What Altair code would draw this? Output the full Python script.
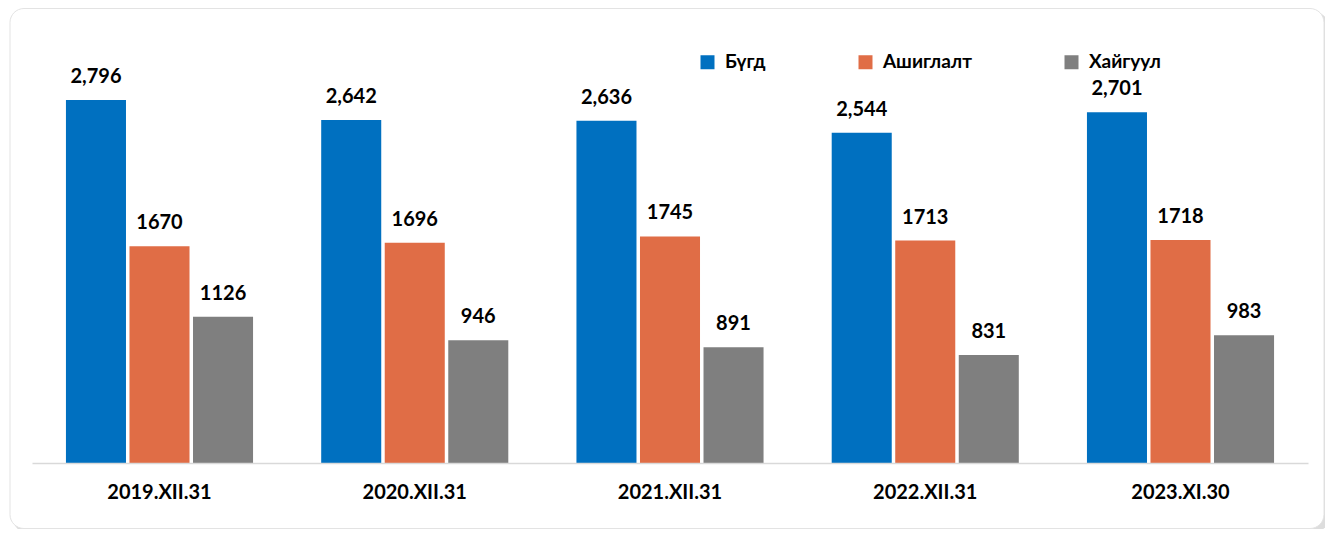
import altair as alt
import pandas as pd

categories = ["2019.XII.31", "2020.XII.31", "2021.XII.31", "2022.XII.31", "2023.XI.30"]
series = ["Бүгд", "Ашиглалт", "Хайгуул"]
total = [2796, 2642, 2636, 2544, 2701]
exploit = [1670, 1696, 1745, 1713, 1718]
explore = [1126, 946, 891, 831, 983]
colors = ["#0070C0", "#E06D46", "#7F7F7F"]

rows = []
for i, c in enumerate(categories):
    for s, vals in zip(series, [total, exploit, explore]):
        v = vals[i]
        lab = f"{v:,}" if s == "Бүгд" else str(v)
        rows.append({"cat": c, "series": s, "value": v, "label": lab})
df = pd.DataFrame(rows)

FONT = "Lato, Open Sans, sans-serif"
W, H = 1276, 389.5

x = alt.X("cat:N", sort=categories, title=None,
          scale=alt.Scale(paddingInner=0.267, paddingOuter=0.133),
          axis=alt.Axis(labelAngle=0, labelFont=FONT, labelFontSize=20, labelFontWeight="bold",
                        labelColor="#000000", labelPadding=19, ticks=False, zindex=2,
                        domainColor="#D9D9D9", domainWidth=1.5, grid=False))
xo = alt.XOffset("series:N", sort=series, scale=alt.Scale(paddingInner=0.055, paddingOuter=0))
y = alt.Y("value:Q", scale=alt.Scale(domain=[0, 3000]), axis=None)
color = alt.Color("series:N", sort=series,
                  scale=alt.Scale(domain=series, range=colors),
                  legend=alt.Legend(title=None, orient="none", direction="horizontal",
                                    legendX=666, legendY=-21, symbolType="square",
                                    symbolSize=196, symbolStrokeWidth=0, labelFont=FONT,
                                    labelFontSize=19, labelFontWeight="bold", labelColor="#000000",
                                    columnPadding=90, labelOffset=8, zindex=2))

base = alt.Chart(df)

shadow = alt.Chart(pd.DataFrame({"a": [0]})).mark_rect(
    cornerRadius=14, fill="#DDDDDD", stroke=None
).encode(x=alt.value(-19), x2=alt.value(1296), y=alt.value(-62), y2=alt.value(459))
frame = alt.Chart(pd.DataFrame({"a": [0]})).mark_rect(
    cornerRadius=14, fill="#FFFFFF", stroke="#E3E3E3", strokeWidth=1
).encode(x=alt.value(-22), x2=alt.value(1292), y=alt.value(-65), y2=alt.value(455))

bars = base.mark_bar().encode(x=x, xOffset=xo, y=y, color=color)
text = base.mark_text(dy=-17, baseline="alphabetic", font=FONT, fontSize=20,
                      fontWeight="bold", color="#000000").encode(
    x=x, xOffset=xo, y=y, text="label:N")

chart = alt.layer(shadow, frame, bars, text).properties(
    width=W, height=H,
    autosize=alt.AutoSizeParams(type="none"),
    padding={"left": 24, "top": 65.5, "right": 17, "bottom": 66},
).configure_view(stroke=None).configure(background="#FFFFFF")

chart.save("out.html", embed_options={"renderer": "svg", "actions": False})
